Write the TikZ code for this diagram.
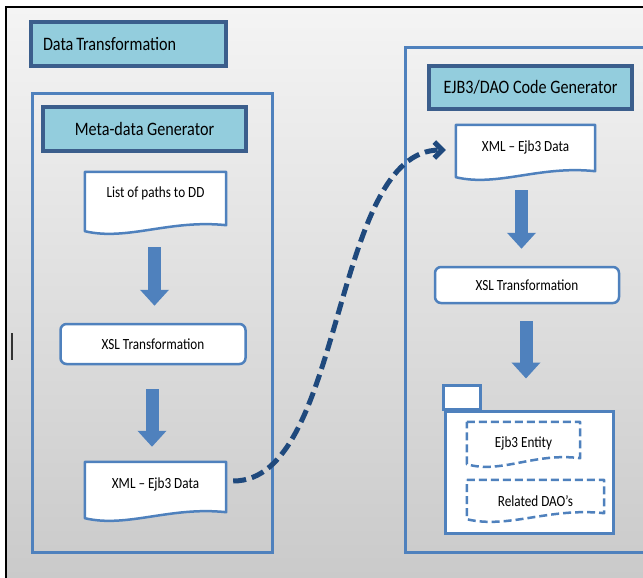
\documentclass[tikz,border=0pt]{standalone}
\usepackage{fontspec}
\setmainfont{Carlito}
\usepackage{graphicx}
\usetikzlibrary{arrows.meta,calc}

\definecolor{aqua}{HTML}{93CDDD}
\definecolor{boxline}{HTML}{3B5E8C}
\definecolor{steel}{HTML}{4F81BD}
\definecolor{navy}{HTML}{1F497D}
\definecolor{bgtop}{HTML}{F4F4F4}
\definecolor{bgbot}{HTML}{CACACA}

\newcommand{\titletext}[1]{\fontsize{19}{22}\selectfont\scalebox{0.85}[1]{#1}}
\newcommand{\boxtext}[1]{\fontsize{15.5}{18}\selectfont\scalebox{0.85}[1]{#1}}

% document shape with a wavy bottom, drawn round a node
\newcommand{\wavedoc}[2][]{%
  \fill[white] (#2.south east) .. controls ($(#2.south west)!0.6!(#2.south east)+(0,-6)$) and ($(#2.south west)!0.3!(#2.south east)+(0,16)$) .. ($(#2.south west)+(0,6)$) -- (#2.south west) -- cycle;
  \draw[docline,#1] (#2.north west) -- (#2.north east) -- (#2.south east) .. controls ($(#2.south west)!0.6!(#2.south east)+(0,-6)$) and ($(#2.south west)!0.3!(#2.south east)+(0,16)$) .. ($(#2.south west)+(0,6)$) -- cycle;}

\tikzset{
  titlebox/.style={draw=boxline, line width=3.5pt, fill=aqua, inner sep=0pt},
  panel/.style={draw=steel, line width=3pt},
  docnode/.style={fill=white, inner sep=0pt},
  docline/.style={draw=steel, line width=2.5pt, line join=round},
  stepbox/.style={draw=steel, line width=2.5pt, fill=white, rounded corners=6pt, inner sep=0pt},
  blockarrow/.style={steel, line width=13pt, -{Triangle[width=28pt,length=16pt]}},
  flow/.style={navy, line width=5pt, dash pattern=on 13pt off 6pt, -{Straight Barb[length=8pt,width=16pt]}},
}

\begin{document}
\begin{tikzpicture}[x=1pt, y=-1pt]
\useasboundingbox (0,0) rectangle (643,578);
\fill[white] (0,0) rectangle (643,578);
\shade[top color=bgtop, bottom color=bgbot] (6,7) rectangle (643,578);
\draw[black, line width=1.3pt] (6,578) -- (6,7) -- (643,7);
\draw[black!80, line width=2pt] (12,333) -- (12,360);

\node[titlebox, minimum height=44pt, text width=171pt, inner xsep=12pt, align=left] (dt) at (128.5,44) {\titletext{Data Transformation}};

% left part
\node[panel, minimum width=240pt, minimum height=458pt] (metapanel) at (152,323) {};
\node[titlebox, minimum width=203pt, minimum height=44pt] (meta) at (144.5,129) {\titletext{Meta-data Generator}};
\node[docnode, minimum width=141pt, minimum height=53pt] (list) at (155.5,198.5) {};
\wavedoc{list}
\node at ($(list.center)+(0,-5)$) {\boxtext{List of paths to DD}};
\node[stepbox, minimum width=185pt, minimum height=40pt] (xslA) at (153,344) {\boxtext{XSL Transformation}};
\node[docnode, minimum width=141pt, minimum height=50pt] (xmlA) at (155.5,487) {};
\wavedoc{xmlA}
\node at ($(xmlA.center)+(0,-3)$) {\boxtext{XML – Ejb3 Data}};

\draw[blockarrow] ($(list.south)+(-1,22)$) -- ($(list.south |- xslA.north)+(-1,-17)$);
\draw[blockarrow] ($(xslA.south)+(-1,24)$) -- ($(xslA.south |- xmlA.north)+(-1,-15)$);

% right part
\node[panel, minimum width=245pt, minimum height=504pt] (codepanel) at (527.5,300) {};
\node[titlebox, minimum width=203pt, minimum height=43pt] (ejb) at (530.5,87.5) {\titletext{EJB3/DAO Code Generator}};
\node[docnode, minimum width=139pt, minimum height=46pt] (xmlB) at (525.5,148) {};
\wavedoc{xmlB}
\node at ($(xmlB.center)+(0,-1)$) {\boxtext{XML – Ejb3 Data}};
\node[stepbox, minimum width=184pt, minimum height=36pt] (xslB) at (527,285) {\boxtext{XSL Transformation}};
\node[draw=steel, line width=3pt, fill=white, minimum width=168pt, minimum height=122pt] (folder) at (529,472) {};
\draw[steel, line width=3pt, fill=white] (folder.north west) rectangle ++(37,-24);
\node[inner sep=0pt, minimum width=113pt, minimum height=36pt] (entity) at (523.5,440) {};
\wavedoc[dashed, dash pattern=on 8pt off 4pt]{entity}
\node at ($(entity.center)+(0,3)$) {\boxtext{Ejb3 Entity}};
\node[inner sep=0pt, minimum width=137pt, minimum height=33pt] (daos) at (535.5,496.5) {};
\wavedoc[dashed, dash pattern=on 8pt off 4pt]{daos}
\node at ($(daos.center)+(0,5)$) {\boxtext{Related DAO’s}};

\draw[blockarrow] ($(xmlB.south)+(-4,19)$) -- ($(xmlB.south |- xslB.north)+(-4,-17)$);
\draw[blockarrow] ($(xslB.south)+(-1,17)$) -- ($(xslB.south |- folder.north)+(-1,-31)$);

\draw[flow] ($(xmlA.east)+(7,-6)$) .. controls +(112,0) and +(-115,0) .. ($(xmlB.west)+(-10,2)$);
\end{tikzpicture}
\end{document}
